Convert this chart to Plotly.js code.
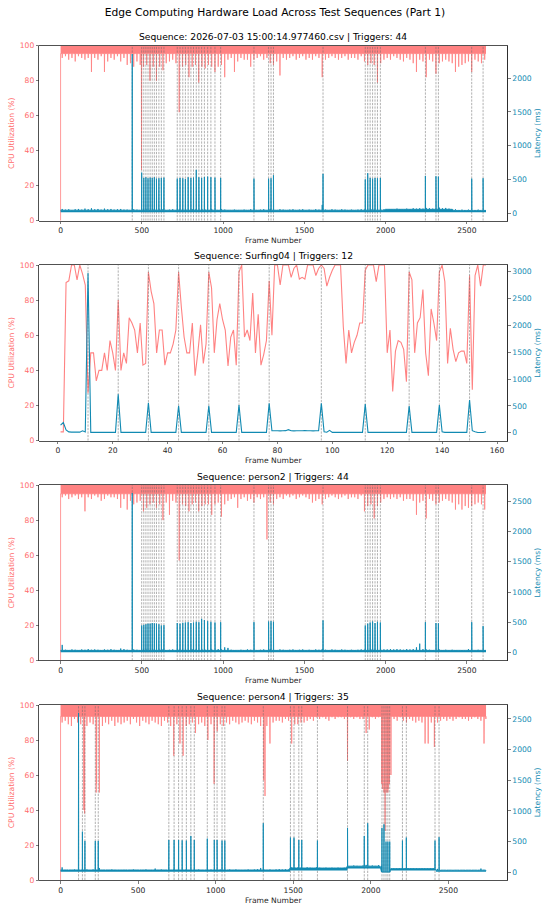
<!DOCTYPE html>
<html><head><meta charset="utf-8">
<script src="https://cdn.plot.ly/plotly-3.0.1.min.js"></script>
<style>html,body{margin:0;padding:0;background:#fff}#chart{width:550px;height:909px}</style>
</head><body><div id="chart"></div>
<script>
// ---------------- DATA ----------------
const BIN = 20;            // frames per reading bin (panels 1,3,4)
const CPU_TOP = 100;       // top of the dense CPU band
const CPU_RANGE = [0, 100];

const mainTitle = "Edge Computing Hardware Load Across Test Sequences (Part 1)";

// Panel 1
const title1 = "Sequence: 2026-07-03 15:00:14.977460.csv | Triggers: 44";
const frames1 = 2619;
const cpuBase1 = 95.5;     // lower edge of the solid CPU band
const cpuLow1 = [93,94,92,93,91,94,93,92,93,85,
 93,92,94,85,91,93,92,94,91,93,
 89,90,88,91,89,88,89,80,88,80,
 88,86,90,91,92,90,62,88,89,82,
 88,89,79,88,87,89,88,85,88,89,
 82,92,93,85,91,93,92,92,88,92,
 93,94,92,93,90,89,91,83,93,92,
 93,94,92,93,94,92,93,92,94,93,
 82,92,93,94,93,92,93,94,92,93,
 93,92,94,91,89,90,89,79,90,92,
 93,92,94,93,92,91,93,92,90,85,
 92,91,82,92,91,84,90,91,92,91,
 90,85,88,89,90,91,85,92,91,90,92];
const cpuDips1 = [[0,0],[498,29]];
const latHigh1 = [60,50,55,45,55,60,50,65,55,70,
 55,60,50,65,55,60,50,55,60,50,
 50,45,55,50,45,55,50,45,50,55,
 50,55,45,50,55,45,50,55,50,45,
 55,50,45,55,50,45,55,50,45,55,
 50,45,40,50,45,40,50,45,55,50,
 45,50,55,45,60,50,45,55,50,45,
 50,55,45,50,55,45,50,45,55,50,
 120,50,45,55,50,45,55,50,45,50,
 45,50,55,50,45,55,50,45,50,55,
 55,60,55,65,60,55,65,60,70,65,
 70,65,75,70,65,75,80,70,75,65,
 50,55,45,50,45,50,40,45,50,40,45];
const latBand1 = [[0,10,42],[2000,15,55],[2420,10,38]];   // [start frame, band floor, band top]
const trig1 = [441, 499,512,525,538,551,564,577,590,605,620,636,
 718,735,752,768,785,802,818,835,851,868,885,905,925,950,985,
 1190, 1280,1295,1310, 1615, 1875,1890,1905,1920,1935,1950,1968,
 2245, 2310,2325, 2530, 2600];
const trigLat1 = [2357, 600,520,530,515,525,520,530,510,515,520,525,
 510,520,515,505,530,520,525,640,530,520,535,540,530,525,520,
 510, 510,515,560, 580, 500,590,520,510,520,515,520,
 550, 545,540, 510, 515];

// Panel 2
const title2 = "Sequence: Surfing04 | Triggers: 12";
const firstFrame2 = 1;
const cpu2 = [5,5,90,91,100,100,91.5,100,95,88.6,
 27,50,50,34,40,40,50,40,57,50,
 40,80,40,50,44,70,67,63,50,67,
 43,44,96,85,78,50,63,63,43,50,
 50,55,63,96,76,59,50,50,67,37,
 50,66,44,55,96,87,50,69,78,69,
 63,42.5,59,63,43,96,100,59,63,57,
 84,50,72,43,49,57,91,60,100,100,
 88.6,100,100,100,93,98,100,92,93,92,
 100,100,100,94,98,100,98,88,93,97,
 100,100,100,65,44,63,50,56,60,67,
 67,97,100,100,100,90.5,100,100,100,50,
 63,28,51,57,56,52,33.6,96,91.5,50,
 67,70,86,50,37,75,67,57,96,100,
 90.5,44,64,52,45,50,51,51,44,94,
 29,94,100,88,100,100];
const lat2 = [140,190,50,15,10,10,10,10,35,15,
 2976,6,6,6,6,6,6,6,6,6,
 6,714,6,6,6,6,6,6,6,6,
 6,6,559,6,6,6,6,6,6,6,
 6,6,6,503,6,6,6,6,6,6,
 6,6,6,6,503,6,6,6,6,6,
 6,6,6,6,6,515,6,6,6,6,
 6,6,6,6,6,6,547,37,37,37,
 35,37,38,56,37,35,37,36,37,38,
 36,37,35,36,38,547,19,10,43,6,
 6,6,6,6,6,6,6,6,6,6,
 6,534,6,6,6,6,6,6,6,6,
 6,6,6,6,6,6,6,497,6,6,
 6,6,6,6,6,6,6,6,515,15,
 6,6,6,6,6,6,6,6,6,609,
 37,19,5,5,5,19];
const trig2 = [11,22,33,44,55,66,77,96,112,128,139,150];

// Panel 3
const title3 = "Sequence: person2 | Triggers: 44";
const frames3 = 2619;
const cpuBase3 = 95;
const cpuLow3 = [93,94,92,93,94,92,93,85,93,92,
 94,93,91,92,94,93,93,92,87,92,
 86,91,89,90,91,85,87,89,90,87,
 89,80,90,83,91,90,57,89,88,85,
 89,90,85,88,89,89,83,89,90,82,
 89,91,92,93,87,92,93,91,92,90,
 93,92,93,69,90,89,92,93,92,94,
 93,94,92,93,94,93,92,90,91,92,
 89,92,93,94,93,92,93,94,92,93,
 93,92,94,85,88,89,81,88,90,92,
 93,92,93,92,93,91,92,92,91,83,
 90,91,81,92,91,89,90,91,92,91,
 90,86,89,86,88,87,88,89,90,89,86];
const cpuDips3 = [[0,0]];
const latHigh3 = [130,50,45,55,50,45,55,50,60,50,
 55,50,45,55,50,60,50,45,70,60,
 50,45,55,50,45,55,50,45,50,55,
 50,55,45,50,55,45,50,55,50,45,
 55,50,45,55,50,45,55,50,60,55,
 90,80,50,45,40,50,45,55,50,45,
 45,50,55,45,60,50,45,55,50,45,
 50,55,45,50,55,45,50,45,55,50,
 60,50,45,55,50,45,55,50,45,50,
 45,50,55,50,45,55,50,45,50,55,
 55,60,55,60,55,50,60,55,60,90,
 150,60,55,50,45,50,55,45,50,45,
 50,45,40,45,40,60,45,40,50,40,45];
const latBand3 = [[0,10,40]];
const trig3 = [441, 499,512,525,538,551,564,577,590,605,620,636,
 718,735,752,768,785,802,818,835,851,868,885,905,925,950,985,
 1190, 1280,1295,1310, 1615, 1875,1890,1905,1920,1935,1950,1968,
 2245, 2310,2325, 2530, 2600];
const trigLat3 = [2633, 450,460,470,480,480,490,485,480,470,450,455,
 490,480,495,500,505,490,500,510,505,560,540,520,510,500,505,
 506, 515,520,510, 534, 450,480,500,515,490,510,500,
 506, 490,485, 506, 440];

// Panel 4
const title4 = "Sequence: person4 | Triggers: 35";
const frames4 = 2744;
const cpuBase4 = 93.5;
const cpuLow4 = [90,91,89,88,92,90,89,40,88,90,
 89,50,50,88,90,89,91,88,90,89,
 90,91,89,92,90,88,91,90,89,91,
 90,89,88,91,90,88,71,89,78,71,
 88,89,90,84,89,90,88,80,89,55,
 85,89,88,90,89,91,90,89,90,91,
 90,89,91,90,88,57,88,78,90,91,
 91,90,92,91,78,89,89,90,90,91,
 92,91,93,92,93,92,91,93,92,93,
 93,92,68,93,92,93,92,92,84,86,
 93,92,93,55,50,50,60,92,91,93,
 91,90,92,91,90,91,90,78,78,90,
 76,90,91,92,91,92,91,92,93,92,
 92,91,92,93,92,91,78,92];
const cpuDips4 = [[0,0],[150,42],[155,38],[232,55],[1318,48],[2075,52],[2085,50],[2092,28],[2103,50],[2112,52],[2120,55]];
const latHigh4 = [80,40,35,40,45,40,35,40,45,40,
 45,40,70,40,35,40,45,40,35,40,
 40,35,40,45,40,35,40,45,40,35,
 60,40,45,40,35,40,45,40,35,40,
 45,40,35,40,45,40,35,40,45,40,
 40,45,40,35,45,40,45,40,35,40,
 45,40,45,50,70,45,40,45,40,45,
 50,45,50,45,80,75,80,75,70,80,
 75,70,80,75,70,75,70,75,70,75,
 70,75,90,100,110,105,100,110,120,105,
 110,105,115,105,5,5,60,55,60,55,
 60,55,60,65,55,60,65,55,60,55,
 60,55,30,35,30,35,30,35,30,35,
 30,35,30,35,30,60,40,30];
const latBand4 = [[0,10,38],[1480,30,70],[1850,60,100],[2070,0,5],[2125,30,60],[2420,10,35]];
const trig4 = [116,141,157,224,243, 698,732,761,784,811,840,862,
 946,991,1009,1041,1059, 1307, 1482,1505,1536,1555, 1656, 1850,
 1958,1980, 2072,2085,2098,2110,2122, 2204,2229, 2414,2440];
const trigLat4 = [2600,663,511,511,511, 527,527,527,520,516,592,527,
 549,527,527,516,516, 799, 565,565,527,527, 516, 723,
 592,799, 723,783,500,500,500, 516,565, 516,571];

// ---------------- BUILD ----------------
function sortPts(pts) {
  pts.sort((a, b) => a[0] - b[0]);
  return {x: pts.map(p => p[0]), y: pts.map(p => p[1])};
}
function cpuSeries(nFrames, low, dips, base) {
  const last = nFrames - 1;
  const pts = [];
  dips.forEach(d => {
    if (d[0] > 0) pts.push([d[0] - 1, base]);
    pts.push([d[0], d[1]]);
    pts.push([Math.min(d[0] + 1, last), base]);
  });
  low.forEach((v, i) => {
    const s = i * BIN;
    const m = Math.min(s + BIN / 2, last - 1);
    pts.push([s, base]);
    pts.push([m - 1, base]);
    pts.push([m, v]);
    pts.push([m + 1, base]);
  });
  pts.push([last, base]);
  return sortPts(pts);
}
function bandAt(bands, f) {
  let b = bands[0];
  bands.forEach(s => { if (s[0] <= f) b = s; });
  return b;
}
function latSeries(nFrames, high, bands, trig, trigLat) {
  const last = nFrames - 1;
  const top = f => bandAt(bands, f)[2];
  const pts = [];
  high.forEach((v, i) => {
    const s = i * BIN;
    const m = Math.min(s + BIN / 2, last - 1);
    pts.push([s, top(s)]);
    pts.push([m - 1, top(m)]);
    pts.push([m, v]);
    pts.push([m + 1, top(m)]);
  });
  trig.forEach((f, k) => {
    pts.push([f - 1, top(f)]);
    pts.push([f, trigLat[k]]);
    pts.push([f + 1, top(f)]);
  });
  pts.push([last, top(last)]);
  return sortPts(pts);
}
function floorSeries(nFrames, bands) {
  const x = [], y = [];
  bands.forEach((b, j) => {
    const end = j + 1 < bands.length ? bands[j + 1][0] : nFrames - 1;
    x.push(b[0], end); y.push(b[1], b[1]);
  });
  return {x, y};
}

const panels = [
  {title: title1, n: frames1, cpu: cpuSeries(frames1, cpuLow1, cpuDips1, cpuBase1),
   lat: latSeries(frames1, latHigh1, latBand1, trig1, trigLat1), floor: floorSeries(frames1, latBand1), trig: trig1,
   xr: [-131, 2749], yr: [-114, 2481], xt: [0,500,1000,1500,2000,2500], yt: [0,500,1000,1500,2000]},
  {title: title2, n: 0,
   cpu: {x: cpu2.map((_, i) => i + firstFrame2), y: cpu2},
   lat: {x: lat2.map((_, i) => i + firstFrame2), y: lat2}, floor: null, trig: trig2,
   xr: [-6.75, 163.75], yr: [-149, 3125], xt: [0,20,40,60,80,100,120,140,160], yt: [0,500,1000,1500,2000,2500,3000]},
  {title: title3, n: frames3, cpu: cpuSeries(frames3, cpuLow3, cpuDips3, cpuBase3),
   lat: latSeries(frames3, latHigh3, latBand3, trig3, trigLat3), floor: floorSeries(frames3, latBand3), trig: trig3,
   xr: [-131, 2749], yr: [-127, 2764], xt: [0,500,1000,1500,2000,2500], yt: [0,500,1000,1500,2000,2500]},
  {title: title4, n: frames4, cpu: cpuSeries(frames4, cpuLow4, cpuDips4, cpuBase4),
   lat: latSeries(frames4, latHigh4, latBand4, trig4, trigLat4), floor: floorSeries(frames4, latBand4), trig: trig4,
   xr: [-137, 2880], yr: [-126, 2728], xt: [0,500,1000,1500,2000,2500], yt: [0,500,1000,1500,2000,2500]}
];

// ---------------- LAYOUT ----------------
const W = 550, H = 909;
const FONT = "DejaVu Sans, Liberation Sans, sans-serif";
const CPU_COLOR = "#FF6B6B", CPU_LINE = "#ff8282", LAT_COLOR = "#118AB2", AX = "#262626";
const xDom = [39.3 / W, 507.3 / W];
const tops = [45.7, 265, 485, 705], bots = [220.7, 440.7, 660.5, 880];

const traces = [], annotations = [];
const layout = {
  width: W, height: H, margin: {l: 0, r: 0, t: 0, b: 0},
  paper_bgcolor: "#fff", plot_bgcolor: "#fff", showlegend: false,
  font: {family: FONT, color: AX, size: 7.6},
  title: {text: mainTitle, font: {family: FONT, size: 10.7, color: "#000"},
          x: 0.5, xanchor: "center", xref: "paper", y: 1 - 12.7 / H, yanchor: "middle", yref: "container"},
  annotations: annotations
};

panels.forEach((p, k) => {
  const i = k + 1;
  const xId = i === 1 ? "x" : "x" + i;
  const yL = i === 1 ? "y" : "y" + (2 * i - 1);
  const yR = "y" + (2 * i);
  const xKey = i === 1 ? "xaxis" : "xaxis" + i;
  const yLKey = i === 1 ? "yaxis" : "yaxis" + (2 * i - 1);
  const yRKey = "yaxis" + (2 * i);
  const yDom = [1 - bots[k] / H, 1 - tops[k] / H];

  if (p.floor) {
    // band top (invisible) so the dense CPU band can be filled down to its readings
    traces.push({type: "scatter", mode: "lines", x: [0, p.n - 1], y: [CPU_TOP, CPU_TOP], xaxis: xId, yaxis: yL,
      line: {width: 0, color: "rgba(0,0,0,0)"}, hoverinfo: "skip"});
    traces.push({type: "scatter", mode: "lines", x: p.cpu.x, y: p.cpu.y, xaxis: xId, yaxis: yL,
      fill: "tonexty", fillcolor: CPU_LINE,
      line: {color: CPU_LINE, width: 0.8, simplify: false}, hoverinfo: "skip"});
  } else {
    traces.push({type: "scatter", mode: "lines", x: p.cpu.x, y: p.cpu.y, xaxis: xId, yaxis: yL,
      line: {color: CPU_LINE, width: 1.1, simplify: false}, hoverinfo: "skip"});
  }
  const vx = [], vy = [];
  p.trig.forEach(f => { vx.push(f, f, null); vy.push(CPU_RANGE[0], CPU_RANGE[1], null); });
  traces.push({type: "scatter", mode: "lines", x: vx, y: vy, xaxis: xId, yaxis: yL,
    line: {color: "rgba(105,105,105,0.75)", width: 0.7, dash: "2.3px,1.2px"}, hoverinfo: "skip"});
  if (p.floor) {
    traces.push({type: "scatter", mode: "lines", x: p.floor.x, y: p.floor.y, xaxis: xId, yaxis: yR,
      line: {width: 0, color: "rgba(0,0,0,0)"}, hoverinfo: "skip"});
    traces.push({type: "scatter", mode: "lines", x: p.lat.x, y: p.lat.y, xaxis: xId, yaxis: yR,
      fill: "tonexty", fillcolor: LAT_COLOR,
      line: {color: LAT_COLOR, width: 0.9, simplify: false}, hoverinfo: "skip"});
  } else {
    traces.push({type: "scatter", mode: "lines", x: p.lat.x, y: p.lat.y, xaxis: xId, yaxis: yR,
      line: {color: LAT_COLOR, width: 1.1, simplify: false}, hoverinfo: "skip"});
  }

  layout[xKey] = {domain: xDom, anchor: yL, range: p.xr, tickmode: "array", tickvals: p.xt,
    showline: true, mirror: true, linecolor: AX, linewidth: 0.8, ticks: "outside", ticklen: 2.7,
    tickwidth: 0.6, tickcolor: AX, showgrid: false, zeroline: false,
    tickfont: {family: FONT, size: 7.6, color: AX},
    title: {text: "Frame Number", font: {family: FONT, size: 7.6, color: AX}, standoff: 3}};
  layout[yLKey] = {domain: yDom, anchor: xId, range: CPU_RANGE, tickmode: "array", tickvals: [0,20,40,60,80,100],
    showline: true, mirror: true, linecolor: AX, linewidth: 0.8, ticks: "outside", ticklen: 2.7,
    tickwidth: 0.6, tickcolor: AX, showgrid: false, zeroline: false,
    tickfont: {family: FONT, size: 7.6, color: CPU_COLOR},
    title: {text: "CPU Utilization (%)", font: {family: FONT, size: 7.6, color: CPU_COLOR}, standoff: 4}};
  layout[yRKey] = {overlaying: yL, side: "right", anchor: xId, range: p.yr, tickmode: "array", tickvals: p.yt,
    showline: true, linecolor: AX, linewidth: 0.8, ticks: "outside", ticklen: 2.7,
    tickwidth: 0.6, tickcolor: AX, showgrid: false, zeroline: false,
    tickfont: {family: FONT, size: 7.6, color: LAT_COLOR},
    title: {text: "Latency (ms)", font: {family: FONT, size: 7.6, color: LAT_COLOR}, standoff: 3}};

  annotations.push({text: p.title, xref: "paper", yref: "paper", x: (xDom[0] + xDom[1]) / 2,
    y: yDom[1], xanchor: "center", yanchor: "bottom", yshift: 1.5, showarrow: false,
    font: {family: FONT, size: 9.2, color: "#000"}});
});

Plotly.newPlot("chart", traces, layout, {staticPlot: true, displayModeBar: false});
</script>
</body></html>
